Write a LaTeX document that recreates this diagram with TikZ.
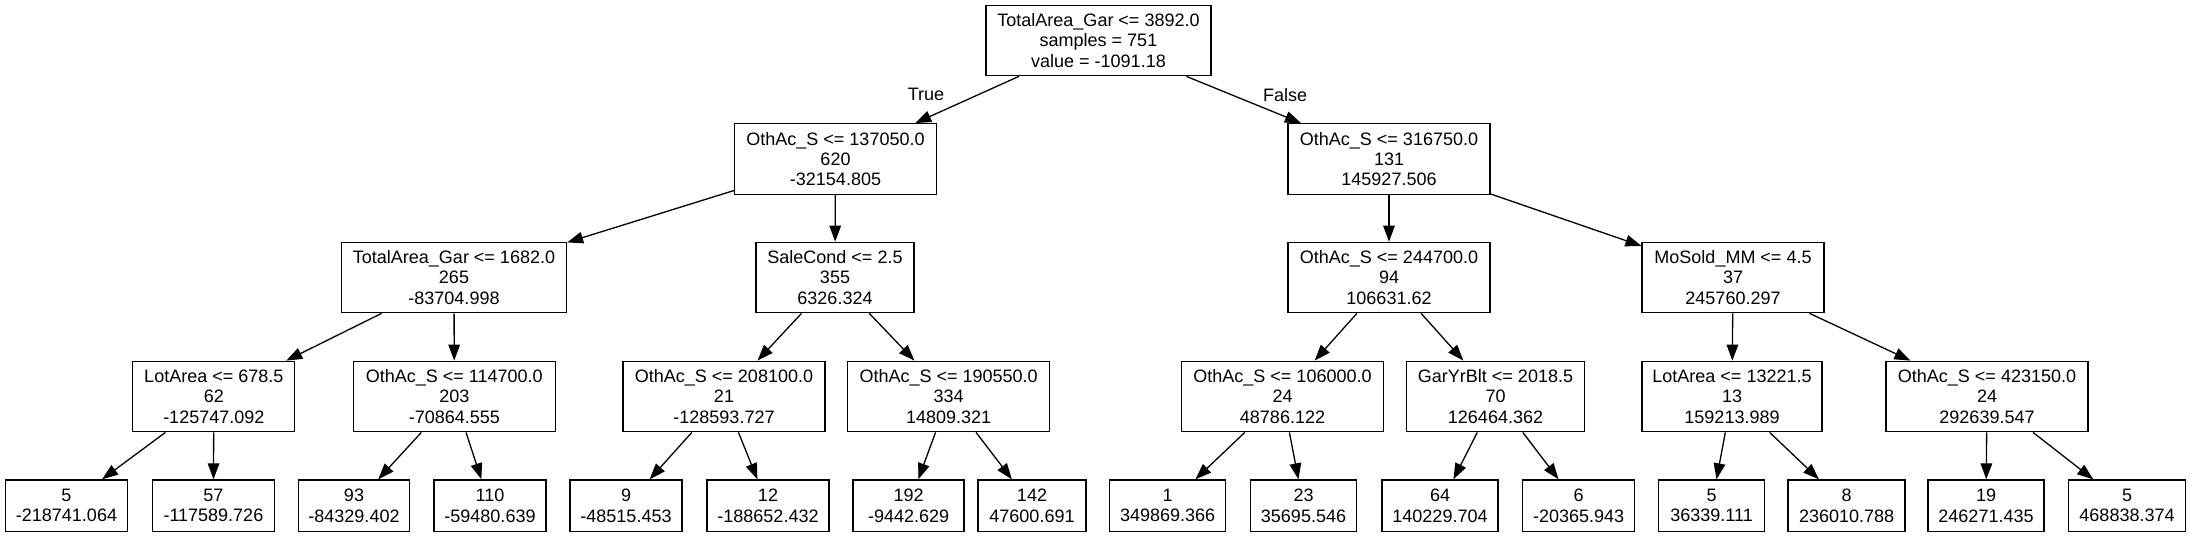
\documentclass[tikz,border=0pt]{standalone}
\usepackage{fontspec}
\setmainfont{Liberation Sans}
\usetikzlibrary{arrows.meta}
\tikzset{
  tn/.style={draw, rectangle, line width=0.65pt, inner sep=0pt, align=center,
    font=\fontsize{9}{10.15}\selectfont, minimum height=35.25pt},
  leaf/.style={tn, minimum height=25.75pt},
  edge/.style={line width=0.65pt, -{Triangle[length=8pt,width=5.8pt]}},
  elabel/.style={font=\fontsize{9}{10.15}\selectfont, inner sep=0pt}
}
\begin{document}
\begin{tikzpicture}[x=0.5pt,y=-0.5pt]
\useasboundingbox (0,0) rectangle (2190,536);
% level 0
\node[tn, minimum width=112.5pt] (r) at (1098.5,40.5) {TotalArea\_Gar <= 3892.0\\samples = 751\\value = -1091.18};
% level 1
\node[tn, minimum width=101pt] (a) at (835.5,159) {OthAc\_S <= 137050.0\\620\\-32154.805};
\node[tn, minimum width=101pt] (b) at (1389,159) {OthAc\_S <= 316750.0\\131\\145927.506};
% level 2
\node[tn, minimum width=112.5pt] (aa) at (454,277.5) {TotalArea\_Gar <= 1682.0\\265\\-83704.998};
\node[tn, minimum width=79pt] (ab) at (835,277.5) {SaleCond <= 2.5\\355\\6326.324};
\node[tn, minimum width=101pt] (ba) at (1389,277.5) {OthAc\_S <= 244700.0\\94\\106631.62};
\node[tn, minimum width=91pt] (bb) at (1733,277.5) {MoSold\_MM <= 4.5\\37\\245760.297};
% level 3
\node[tn, minimum width=81pt] (aaa) at (213.8,396.5) {LotArea <= 678.5\\62\\-125747.092};
\node[tn, minimum width=101pt] (aab) at (454.3,396.5) {OthAc\_S <= 114700.0\\203\\-70864.555};
\node[tn, minimum width=101pt] (aba) at (724,396.5) {OthAc\_S <= 208100.0\\21\\-128593.727};
\node[tn, minimum width=101pt] (abb) at (948.7,396.5) {OthAc\_S <= 190550.0\\334\\14809.321};
\node[tn, minimum width=101pt] (baa) at (1282.5,396.5) {OthAc\_S <= 106000.0\\24\\48786.122};
\node[tn, minimum width=89pt] (bab) at (1495.5,396.5) {GarYrBlt <= 2018.5\\70\\126464.362};
\node[tn, minimum width=90pt] (bba) at (1732,396.5) {LotArea <= 13221.5\\13\\159213.989};
\node[tn, minimum width=101pt] (bbb) at (1987,396.5) {OthAc\_S <= 423150.0\\24\\292639.547};
% leaves
\node[leaf, minimum width=61pt] (l1) at (66.5,505.7) {5\\-218741.064};
\node[leaf, minimum width=61pt] (l2) at (213.4,505.7) {57\\-117589.726};
\node[leaf, minimum width=55.5pt] (l3) at (354,505.7) {93\\-84329.402};
\node[leaf, minimum width=56pt] (l4) at (490,505.7) {110\\-59480.639};
\node[leaf, minimum width=56pt] (l5) at (626,505.7) {9\\-48515.453};
\node[leaf, minimum width=61pt] (l6) at (768,505.7) {12\\-188652.432};
\node[leaf, minimum width=55.5pt] (l7) at (908.6,505.7) {192\\-9442.629};
\node[leaf, minimum width=54pt] (l8) at (1032,505.7) {142\\47600.691};
\node[leaf, minimum width=58pt] (l9) at (1167.7,505.7) {1\\349869.366};
\node[leaf, minimum width=53pt] (l10) at (1303.5,505.7) {23\\35695.546};
\node[leaf, minimum width=58pt] (l11) at (1440,505.7) {64\\140229.704};
\node[leaf, minimum width=56pt] (l12) at (1578.6,505.7) {6\\-20365.943};
\node[leaf, minimum width=53pt] (l13) at (1711.6,505.7) {5\\36339.111};
\node[leaf, minimum width=58.5pt] (l14) at (1846.6,505.7) {8\\236010.788};
\node[leaf, minimum width=58pt] (l15) at (1986,505.7) {19\\246271.435};
\node[leaf, minimum width=58.5pt] (l16) at (2127,505.7) {5\\468838.374};
% edge labels
\node[elabel] (tl) at (926,94) {True};
\node[elabel] (fl) at (1285,95) {False};
% edges
\draw[edge] (r) -- (a);
\draw[edge] (r) -- (b);
\draw[edge] (a) -- (aa);
\draw[edge] (a) -- (ab);
\draw[edge] (b) -- (ba);
\draw[edge] (b) -- (bb);
\draw[edge] (aa) -- (aaa);
\draw[edge] (aa) -- (aab);
\draw[edge] (ab) -- (aba);
\draw[edge] (ab) -- (abb);
\draw[edge] (ba) -- (baa);
\draw[edge] (ba) -- (bab);
\draw[edge] (bb) -- (bba);
\draw[edge] (bb) -- (bbb);
\draw[edge] (aaa) -- (l1);
\draw[edge] (aaa) -- (l2);
\draw[edge] (aab) -- (l3);
\draw[edge] (aab) -- (l4);
\draw[edge] (aba) -- (l5);
\draw[edge] (aba) -- (l6);
\draw[edge] (abb) -- (l7);
\draw[edge] (abb) -- (l8);
\draw[edge] (baa) -- (l9);
\draw[edge] (baa) -- (l10);
\draw[edge] (bab) -- (l11);
\draw[edge] (bab) -- (l12);
\draw[edge] (bba) -- (l13);
\draw[edge] (bba) -- (l14);
\draw[edge] (bbb) -- (l15);
\draw[edge] (bbb) -- (l16);
\end{tikzpicture}
\end{document}
